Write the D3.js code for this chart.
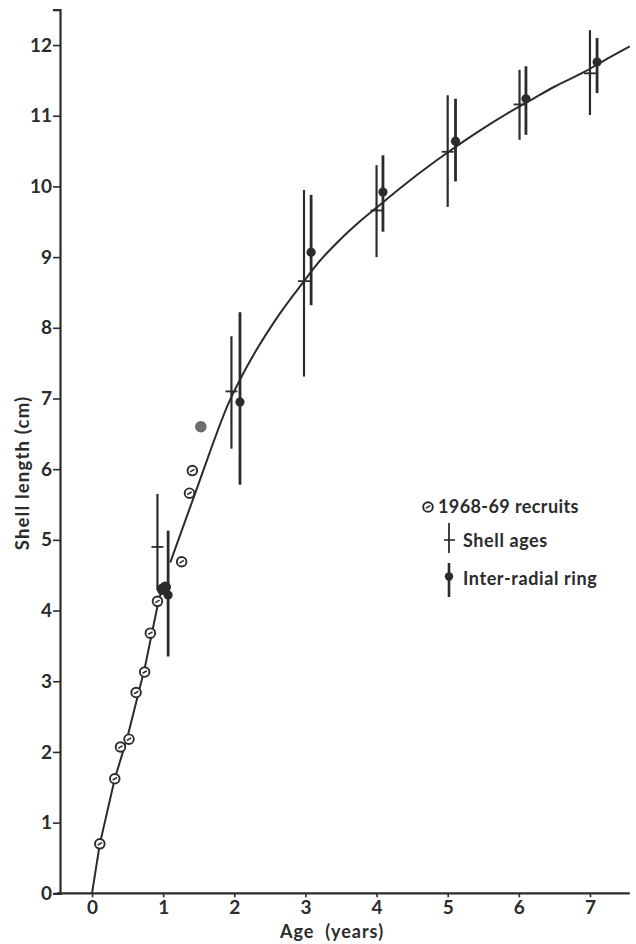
<!DOCTYPE html>
<html>
<head>
<meta charset="utf-8">
<script src="https://cdn.jsdelivr.net/npm/d3@7"></script>
<style>
  html, body { margin: 0; padding: 0; background: #fff; }
  svg { display: block; }
  text { font-family: Lato, "Open Sans", sans-serif; font-weight: 700; fill: #2b2b2b; }
</style>
</head>
<body>
<svg id="chart" width="636" height="944"></svg>
<script>
// 1968-69 recruits: [age (years), shell length (cm)]
const recruitAges    = [0.11, 0.32, 0.40, 0.52, 0.62, 0.74, 0.82, 0.92, 0.99, 1.03, 1.26, 1.37, 1.41, 1.53];
const recruitLengths = [0.70, 1.62, 2.07, 2.18, 2.84, 3.13, 3.68, 4.13, 4.30, 4.33, 4.69, 5.66, 5.98, 6.60];
const recruitShade   = ["o", "o", "o", "o", "o", "o", "o", "o", "f", "f", "o", "o", "o", "g"];

// Shell ages: mean with range
const shellAges  = [0.92, 1.96, 2.98, 4.00, 5.00, 6.01, 7.00];
const shellMean  = [4.90, 7.10, 8.66, 9.66, 10.49, 11.16, 11.60];
const shellLow   = [4.29, 6.29, 7.31, 9.00, 9.71, 10.66, 11.01];
const shellHigh  = [5.65, 7.88, 9.95, 10.30, 11.29, 11.65, 12.21];

// Inter-radial ring: mean with range
const ringAges = [1.07, 2.08, 3.08, 4.09, 5.11, 6.10, 7.10];
const ringMean = [4.22, 6.95, 9.07, 9.92, 10.64, 11.24, 11.76];
const ringLow  = [3.35, 5.78, 8.32, 9.36, 10.07, 10.73, 11.32];
const ringHigh = [5.13, 8.22, 9.88, 10.44, 11.24, 11.70, 12.10];

// Growth curve, drawn as two pieces
const earlyAges    = [0.00, 0.11, 0.32, 0.50, 0.74, 0.92, 1.00];
const earlyLengths = [0.00, 0.70, 1.62, 2.22, 3.18, 4.06, 4.38];
const lateAges     = [1.10, 1.50, 1.94, 2.15, 2.64, 2.98, 3.13, 3.50, 3.76, 4.00, 4.30, 4.86, 5.00, 5.50, 5.87, 6.20, 6.50, 6.92, 7.18, 7.56];
const lateLengths  = [4.68, 5.80, 6.98, 7.40, 8.20, 8.66, 8.86, 9.26, 9.50, 9.70, 9.95, 10.38, 10.48, 10.82, 11.05, 11.24, 11.41, 11.62, 11.77, 11.98];

const xTicks = [0, 1, 2, 3, 4, 5, 6, 7];
const yTicks = [0, 1, 2, 3, 4, 5, 6, 7, 8, 9, 10, 11, 12];
const legendLabels = ["1968-69 recruits", "Shell ages", "Inter-radial ring"];

const ink = "#2b2b2b";
const svg = d3.select("#chart");

const x = d3.scaleLinear().domain([-0.45, 7.56]).range([60, 629.8]);
const y = d3.scaleLinear().domain([0, 12.5]).range([893.3, 9.7]);

// Axes
const xAxis = svg.append("g").attr("transform", `translate(0,${y(0)})`)
  .call(d3.axisBottom(x).tickValues(xTicks).tickSize(4).tickPadding(3).tickFormat(d3.format("d")));
const yAxis = svg.append("g").attr("transform", `translate(${x(-0.45)},0)`)
  .call(d3.axisLeft(y).tickValues(yTicks).tickSize(7).tickPadding(1).tickFormat(d3.format("d")));
[xAxis, yAxis].forEach(g => {
  g.select(".domain").attr("stroke", ink).attr("stroke-width", 2.2);
  g.selectAll(".tick line").attr("stroke", ink).attr("stroke-width", 1.6);
  g.selectAll(".tick text").style("font-size", "19px").attr("fill", ink);
});
xAxis.select(".domain").attr("d", `M${57},0H${629.8}`);

// Axis titles
svg.append("text").attr("x", 332).attr("y", 938).attr("text-anchor", "middle")
  .style("font-size", "18px").style("letter-spacing", "1px").style("white-space", "pre")
  .text("Age  (years)");
svg.append("text").attr("transform", `translate(29,473) rotate(-90)`).attr("text-anchor", "middle")
  .style("font-size", "18.5px").style("letter-spacing", "1.2px").text("Shell length (cm)");

// Growth curve
const lineEarly = d3.line().x(d => x(d[0])).y(d => y(d[1]));
const lineLate = d3.line().x(d => x(d[0])).y(d => y(d[1])).curve(d3.curveMonotoneX);
svg.append("path").datum(d3.zip(earlyAges, earlyLengths)).attr("d", lineEarly)
  .attr("fill", "none").attr("stroke", ink).attr("stroke-width", 2);
svg.append("path").datum(d3.zip(lateAges, lateLengths)).attr("d", lineLate)
  .attr("fill", "none").attr("stroke", ink).attr("stroke-width", 2);

// Shell-age range bars with cross marks
const shell = svg.append("g");
shellAges.forEach((a, i) => {
  shell.append("line").attr("x1", x(a)).attr("x2", x(a)).attr("y1", y(shellLow[i])).attr("y2", y(shellHigh[i]))
    .attr("stroke", ink).attr("stroke-width", 2.2);
  shell.append("line").attr("x1", x(a) - 6).attr("x2", x(a) + 6).attr("y1", y(shellMean[i])).attr("y2", y(shellMean[i]))
    .attr("stroke", ink).attr("stroke-width", 1.8);
});

// Inter-radial ring range bars with dots
const ring = svg.append("g");
ringAges.forEach((a, i) => {
  ring.append("line").attr("x1", x(a)).attr("x2", x(a)).attr("y1", y(ringLow[i])).attr("y2", y(ringHigh[i]))
    .attr("stroke", ink).attr("stroke-width", 2.8);
  ring.append("circle").attr("cx", x(a)).attr("cy", y(ringMean[i])).attr("r", 4.6).attr("fill", ink);
});

// Recruit markers: ringed circle with a short inner stroke
function recruitMark(g, cx, cy, shade) {
  const fill = shade === "f" ? ink : shade === "g" ? "#6f6f6f" : "#fff";
  const stroke = shade === "g" ? "#6a6a6a" : ink;
  g.append("circle").attr("cx", cx).attr("cy", cy).attr("r", 4.8)
    .attr("fill", fill).attr("stroke", stroke).attr("stroke-width", 1.9);
  if (shade === "o") {
    g.append("line").attr("x1", cx - 2.2).attr("x2", cx + 2.2).attr("y1", cy + 1.3).attr("y2", cy - 1.3)
      .attr("stroke", ink).attr("stroke-width", 1.5);
  }
}
const rec = svg.append("g");
recruitAges.forEach((a, i) => recruitMark(rec, x(a), y(recruitLengths[i]), recruitShade[i]));

// Legend
const lg = svg.append("g");
const legendFont = "18px";
recruitMark(lg, 428, 507, "o");
lg.append("text").attr("x", 438).attr("y", 513).style("font-size", legendFont).style("letter-spacing", "0.4px").text(legendLabels[0]);
lg.append("line").attr("x1", 449).attr("x2", 449).attr("y1", 523).attr("y2", 553).attr("stroke", ink).attr("stroke-width", 1.8);
lg.append("line").attr("x1", 444).attr("x2", 455).attr("y1", 540).attr("y2", 540).attr("stroke", ink).attr("stroke-width", 1.6);
lg.append("text").attr("x", 463).attr("y", 547).style("font-size", legendFont).style("letter-spacing", "0.6px").text(legendLabels[1]);
lg.append("line").attr("x1", 449).attr("x2", 449).attr("y1", 563).attr("y2", 597).attr("stroke", ink).attr("stroke-width", 2.6);
lg.append("circle").attr("cx", 449).attr("cy", 576.5).attr("r", 4.2).attr("fill", ink);
lg.append("text").attr("x", 463).attr("y", 585).style("font-size", legendFont).style("letter-spacing", "0.6px").text(legendLabels[2]);
</script>
</body>
</html>
